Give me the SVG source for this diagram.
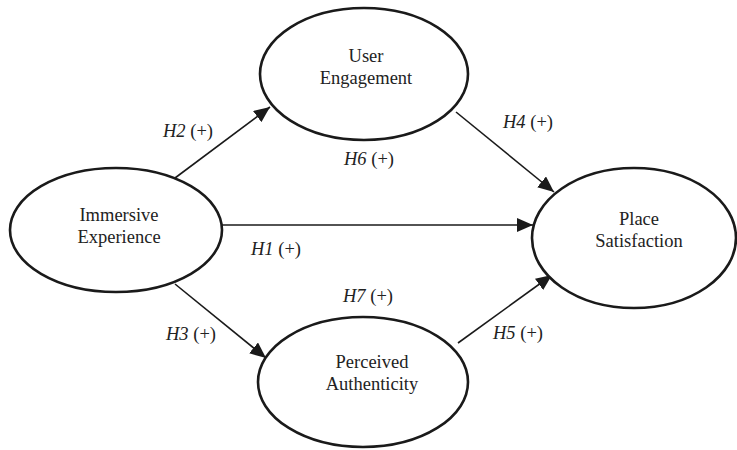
<svg xmlns="http://www.w3.org/2000/svg" width="737" height="450" viewBox="0 0 737 450">
<style>
.node{fill:#fff;stroke:#1a1a1a;stroke-width:2.6}
.t{font-family:"Liberation Serif","Times New Roman",serif;font-size:18.5px;fill:#222;text-anchor:middle}
.l{font-family:"Liberation Serif","Times New Roman",serif;font-size:18.5px;fill:#222}
.e{stroke:#1a1a1a;stroke-width:1.6;fill:none;marker-end:url(#ah)}
</style>
<defs>
<marker id="ah" markerUnits="userSpaceOnUse" markerWidth="16" markerHeight="14" refX="16" refY="7" orient="auto">
<path d="M0,0 L16,7 L0,14 z" fill="#1a1a1a"/>
</marker>
</defs>
<g id="connectors">
<line class="e" x1="175" y1="178" x2="270" y2="107"/>
<line class="e" x1="222" y1="225" x2="533" y2="225"/>
<line class="e" x1="456" y1="112" x2="554" y2="192"/>
<line class="e" x1="175" y1="284" x2="266" y2="358"/>
<line class="e" x1="458" y1="343" x2="552" y2="275"/>
</g>
<g id="labels">
<text class="l" x="163" y="137"><tspan font-style="italic">H2</tspan> (+)</text>
<text class="l" x="251" y="255"><tspan font-style="italic">H1</tspan> (+)</text>
<text class="l" x="166" y="340"><tspan font-style="italic">H3</tspan> (+)</text>
<text class="l" x="503" y="128"><tspan font-style="italic">H4</tspan> (+)</text>
<text class="l" x="493" y="339"><tspan font-style="italic">H5</tspan> (+)</text>
<text class="l" x="344" y="165"><tspan font-style="italic">H6</tspan> (+)</text>
<text class="l" x="343" y="302"><tspan font-style="italic">H7</tspan> (+)</text>
</g>
<g id="immersive">
<ellipse class="node" cx="116" cy="230" rx="106" ry="62"/>
<text class="t" x="119" y="221">Immersive</text>
<text class="t" x="119" y="243">Experience</text>
</g>
<g id="engagement">
<ellipse class="node" cx="364" cy="74" rx="104" ry="66"/>
<text class="t" x="366" y="62">User</text>
<text class="t" x="366" y="84">Engagement</text>
</g>
<g id="authenticity">
<ellipse class="node" cx="363" cy="382" rx="105" ry="65"/>
<text class="t" x="372" y="368">Perceived</text>
<text class="t" x="372" y="390">Authenticity</text>
</g>
<g id="satisfaction">
<ellipse class="node" cx="634" cy="238" rx="102" ry="70"/>
<text class="t" x="639" y="225">Place</text>
<text class="t" x="639" y="247">Satisfaction</text>
</g>
</svg>
